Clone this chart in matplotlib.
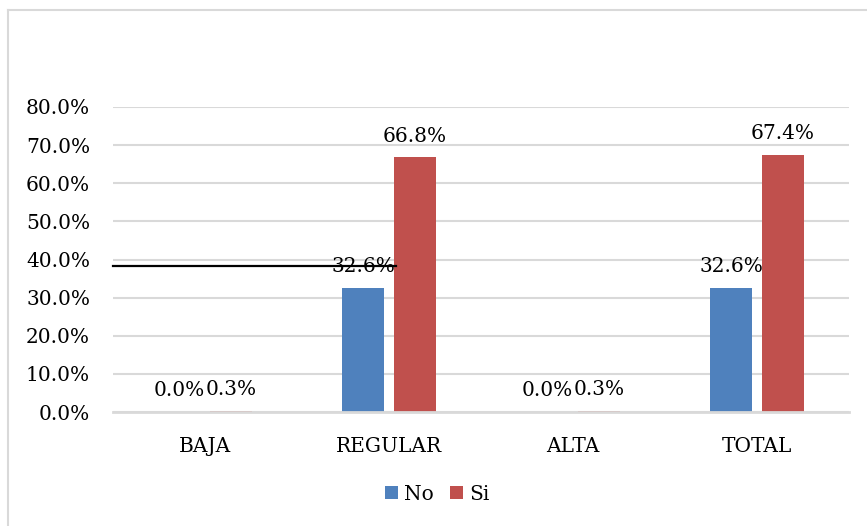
import matplotlib
matplotlib.use("Agg")
import matplotlib.pyplot as plt
import numpy as np
from matplotlib.lines import Line2D

categories = ["BAJA", "REGULAR", "ALTA", "TOTAL"]
no_values = [0.0, 32.6, 0.0, 32.6]
si_values = [0.3, 66.8, 0.3, 67.4]
series_names = ["No", "Si"]
yticks = [0, 10, 20, 30, 40, 50, 60, 70, 80]

blue = "#4F81BD"
red = "#C0504D"
grid_c = "#D9D9D9"
font = "DejaVu Serif"
fs = 14.5

W, H = 867, 526
fig = plt.figure(figsize=(W / 100, H / 100), dpi=100)
ax = fig.add_axes([113 / W, 1 - 412 / H, (849 - 113) / W, (412 - 107) / H])

x = np.arange(len(categories))
bw = 0.228
gap = 0.054
off = (bw + gap) / 2
b1 = ax.bar(x - off, no_values, bw, color=blue, label=series_names[0], zorder=3)
b2 = ax.bar(x + off, si_values, bw, color=red, label=series_names[1], zorder=3)

for bars, vals in ((b1, no_values), (b2, si_values)):
    for r, v in zip(bars, vals):
        ax.annotate(f"{v:.1f}%", (r.get_x() + r.get_width() / 2, v),
                    xytext=(0, 8.5), textcoords="offset points",
                    ha="center", va="bottom", fontsize=fs, family=font, zorder=4)

ax.set_xlim(-0.5, len(categories) - 0.5)
ax.set_ylim(0, 80)
ax.set_yticks(yticks)
ax.set_yticklabels([f"{t:.1f}%" for t in yticks], fontsize=fs, family=font)
ax.set_xticks(x)
ax.set_xticklabels(categories, fontsize=fs, family=font)
ax.tick_params(axis="both", length=0)
ax.tick_params(axis="y", pad=16.5)
ax.tick_params(axis="x", pad=18)
ax.yaxis.grid(True, color=grid_c, linewidth=1.5, zorder=0)
ax.set_axisbelow(True)
for s in ax.spines.values():
    s.set_visible(False)
# baseline drawn over the bars' feet (as in the reference)
ax.axhline(0, color=grid_c, linewidth=2.0, zorder=3.5, clip_on=False)

# black overlay line
ax.plot([-0.5, 1.036], [38.4, 38.4], color="black", linewidth=1.6, zorder=5, clip_on=False)

leg = fig.legend(handles=[b1, b2], labels=series_names, loc="center",
                 bbox_to_anchor=(437 / W, 1 - 494 / H), ncol=2, frameon=False,
                 prop={"family": font, "size": fs}, handlelength=0.65, handleheight=0.65,
                 handletextpad=0.3, columnspacing=0.8)

# chart frame (top and left edges)
fig.add_artist(Line2D([8 / W, 1], [1 - 10 / H, 1 - 10 / H], color=grid_c, linewidth=1.5))
fig.add_artist(Line2D([8 / W, 8 / W], [0, 1 - 10 / H], color=grid_c, linewidth=1.5))

fig.savefig("out.png", dpi=100)
